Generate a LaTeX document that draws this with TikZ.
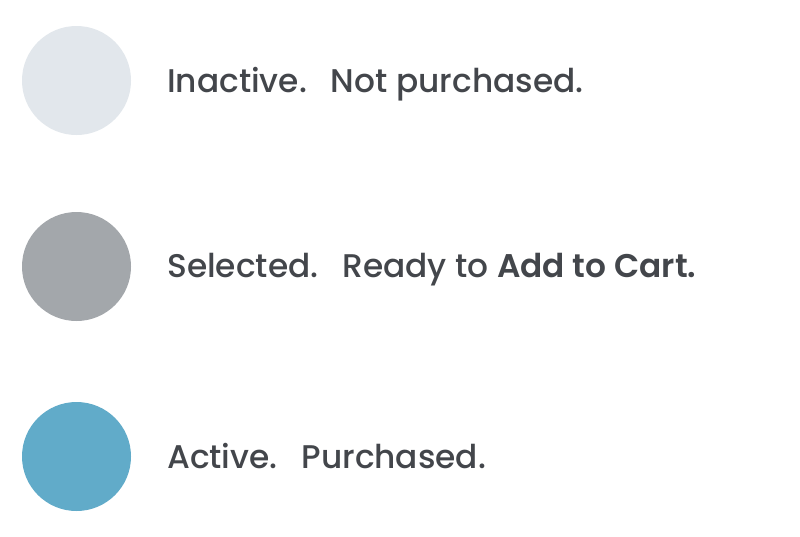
\documentclass[tikz,border=0pt]{standalone}
\usepackage{fontspec}
\setmainfont{Poppins}[UprightFont=* Medium, BoldFont=* SemiBold]
\definecolor{inact}{HTML}{E2E7EC}
\definecolor{selc}{HTML}{A3A7AB}
\definecolor{actc}{HTML}{61ABC9}
\definecolor{txt}{HTML}{43464B}
\begin{document}
\begin{tikzpicture}[x=1pt,y=-1pt,
  dot/.style={circle,minimum size=109pt,inner sep=0pt},
  lbl/.style={anchor=base west,inner sep=0pt,text=txt,font=\fontsize{32.8}{38}\selectfont}]
\useasboundingbox (0,0) rectangle (800,536);
\fill[white] (0,0) rectangle (800,536);
\node[dot,fill=inact] (c1) at (76.5,80.5) {};
\node[dot,fill=selc] (c2) at (76.5,266.5) {};
\node[dot,fill=actc] (c3) at (76.5,456.5) {};
\node[lbl] (t1) at (167,92) {Inactive.\hspace{24pt}Not purchased.};
\node[lbl] (t2) at (167,277) {Selected.\hspace{24pt}Ready to \textbf{Add to Cart.}};
\node[lbl] (t3) at (167,468) {Active.\hspace{24pt}Purchased.};
\end{tikzpicture}
\end{document}
